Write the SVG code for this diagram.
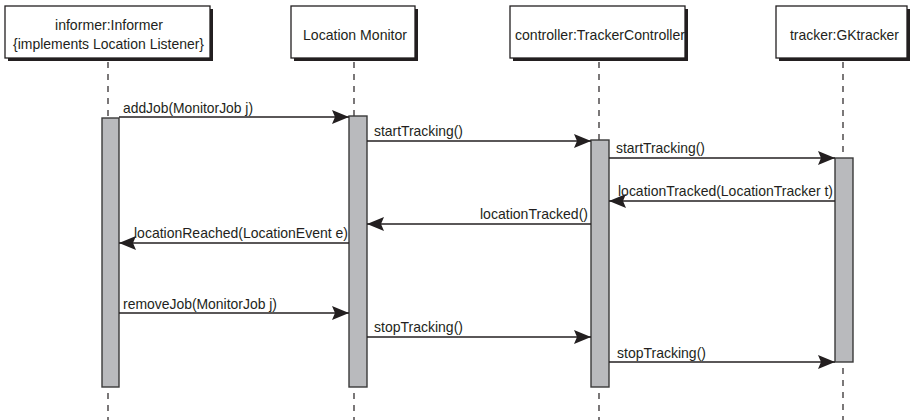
<svg xmlns="http://www.w3.org/2000/svg" width="911" height="420" viewBox="0 0 911 420">
<style>
.box{fill:#fff;stroke:#231f20;stroke-width:1.3}
.shadow{fill:#231f20}
.t{font-family:"Liberation Sans",Arial,sans-serif;font-size:15px;fill:#231f20}
.life{stroke:#231f20;stroke-width:1.2;stroke-dasharray:6,6;fill:none}
.bar{fill:#b9babd;stroke:#3a3a3a;stroke-width:1.4}
.msg{stroke:#231f20;stroke-width:1.4;fill:none;marker-end:url(#ah)}
</style>
<defs>
<marker id="ah" markerUnits="userSpaceOnUse" markerWidth="18" markerHeight="16" viewBox="0 0 18 16" refX="17" refY="8" orient="auto">
<path d="M0,1 L17,8 L0,15 L3,8 Z" fill="#231f20"/>
</marker>
</defs>
<rect width="911" height="420" fill="#fff"/>

<g id="informer">
<rect class="shadow" x="8" y="9" width="205" height="52"/>
<rect class="box" x="5" y="6" width="205" height="52"/>
<text class="t" x="55" y="30" textLength="108" lengthAdjust="spacingAndGlyphs">informer:Informer</text>
<text class="t" x="13" y="49" textLength="191" lengthAdjust="spacingAndGlyphs">{implements Location Listener}</text>
<line class="life" x1="108" y1="62" x2="108" y2="118"/>
<line class="life" x1="108" y1="393" x2="108" y2="420"/>
<rect class="bar" x="102" y="118" width="17" height="269"/>
</g>

<g id="monitor">
<rect class="shadow" x="294" y="9" width="124" height="52"/>
<rect class="box" x="291" y="6" width="124" height="52"/>
<text class="t" x="303" y="40" textLength="104" lengthAdjust="spacingAndGlyphs">Location Monitor</text>
<line class="life" x1="354" y1="62" x2="354" y2="116"/>
<line class="life" x1="354" y1="393" x2="354" y2="420"/>
<rect class="bar" x="349" y="116" width="18" height="271"/>
</g>

<g id="controller">
<rect class="shadow" x="513" y="9" width="175" height="52"/>
<rect class="box" x="510" y="6" width="175" height="52"/>
<text class="t" x="515" y="40" textLength="170" lengthAdjust="spacingAndGlyphs">controller:TrackerController</text>
<line class="life" x1="599" y1="62" x2="599" y2="140"/>
<line class="life" x1="599" y1="393" x2="599" y2="420"/>
<rect class="bar" x="591" y="140" width="18" height="247"/>
</g>

<g id="tracker">
<rect class="shadow" x="779" y="9" width="131" height="52"/>
<rect class="box" x="776" y="6" width="131" height="52"/>
<text class="t" x="790" y="40" textLength="109" lengthAdjust="spacingAndGlyphs">tracker:GKtracker</text>
<line class="life" x1="843" y1="62" x2="843" y2="158"/>
<line class="life" x1="843" y1="368" x2="843" y2="420"/>
<rect class="bar" x="835" y="158" width="18" height="204"/>
</g>

<g id="connectors">
<line class="msg" x1="119" y1="117" x2="349" y2="117"/>
<line class="msg" x1="367" y1="141" x2="591" y2="141"/>
<line class="msg" x1="609" y1="158" x2="835" y2="158"/>
<line class="msg" x1="835" y1="201" x2="609" y2="201"/>
<line class="msg" x1="591" y1="224" x2="367" y2="224"/>
<line class="msg" x1="349" y1="243" x2="119" y2="243"/>
<line class="msg" x1="119" y1="313" x2="349" y2="313"/>
<line class="msg" x1="367" y1="337" x2="591" y2="337"/>
<line class="msg" x1="609" y1="362" x2="835" y2="362"/>
<text class="t" x="123" y="113" textLength="130" lengthAdjust="spacingAndGlyphs">addJob(MonitorJob j)</text>
<text class="t" x="374" y="136" textLength="89" lengthAdjust="spacingAndGlyphs">startTracking()</text>
<text class="t" x="616" y="153" textLength="89" lengthAdjust="spacingAndGlyphs">startTracking()</text>
<text class="t" x="618" y="196" textLength="215" lengthAdjust="spacingAndGlyphs">locationTracked(LocationTracker t)</text>
<text class="t" x="480" y="219" textLength="108" lengthAdjust="spacingAndGlyphs">locationTracked()</text>
<text class="t" x="134" y="238" textLength="214" lengthAdjust="spacingAndGlyphs">locationReached(LocationEvent e)</text>
<text class="t" x="123" y="309" textLength="154" lengthAdjust="spacingAndGlyphs">removeJob(MonitorJob j)</text>
<text class="t" x="374" y="332" textLength="89" lengthAdjust="spacingAndGlyphs">stopTracking()</text>
<text class="t" x="617" y="358" textLength="89" lengthAdjust="spacingAndGlyphs">stopTracking()</text>
</g>
</svg>
